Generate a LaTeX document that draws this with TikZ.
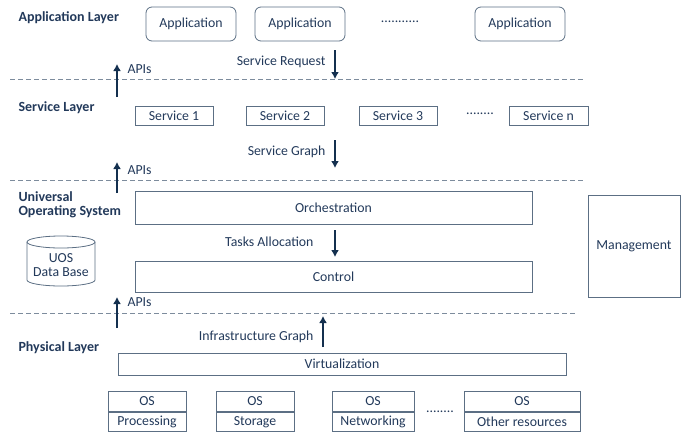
\documentclass[tikz,border=0pt]{standalone}
\usepackage{fontspec}
\setmainfont{Carlito}
\usetikzlibrary{arrows.meta}
\definecolor{txt}{HTML}{22395A}
\definecolor{brd}{HTML}{5C6F84}
\definecolor{arr}{HTML}{14304F}
\tikzset{
  every node/.style={text=txt, font=\fontsize{13.8}{15}\selectfont},
  lay/.style={anchor=west, font=\fontsize{14}{15}\selectfont\bfseries, align=left},
  appbox/.style={draw=brd, line width=0.8pt, rounded corners=6pt, minimum width=90pt, minimum height=34pt},
  svbox/.style={draw=brd, line width=0.8pt, minimum width=78pt, minimum height=19pt, inner sep=0pt},
  widebox/.style={draw=brd, line width=0.8pt, inner sep=0pt},
  osbox/.style={draw=brd, line width=0.8pt, minimum height=19.5pt, inner sep=0pt},
  sep/.style={draw=brd!80, dashed, dash pattern=on 5pt off 3pt, line width=0.7pt},
  flow/.style={draw=arr, line width=2.2pt, -{Latex[length=7pt,width=8pt]}},
  lbl/.style={anchor=east},
}
\begin{document}
\begin{tikzpicture}[x=1pt,y=-1pt]
\useasboundingbox (0,0) rectangle (683,432);
% layer labels
\node[lay] (la) at (15,18) {Application Layer};
\node[lay] (ls) at (15,108) {Service Layer};
\node[lay] (lu) at (15,205) {Universal\\[-1pt]Operating System};
\node[lay] (lp) at (15,348) {Physical Layer};
% application layer
\node[appbox] (a1) at (191,24) {Application};
\node[appbox] (a2) at (300,24) {Application};
\node (adots) at (400,22) {...........};
\node[appbox] (a4) at (520,24) {Application};
% separators
\coordinate (d1l) at (10,79); \coordinate (d1r) at (583,79);
\coordinate (d2l) at (10,180); \coordinate (d2r) at (583,180);
\coordinate (d3l) at (10,313); \coordinate (d3r) at (577,313);
\path[sep] (d1l) -- (d1r);
\path[sep] (d2l) -- (d2r);
\path[sep] (d3l) -- (d3r);
% service request
\coordinate (sr1) at (335,50); \coordinate (sr2) at (335,79);
\path[flow] (sr1) -- (sr2);
\node[lbl] (srl) at (329,62) {Service Request};
% APIs 1
\coordinate (ap1a) at (117,97); \coordinate (ap1b) at (117,64);
\path[flow] (ap1a) -- (ap1b);
\node[anchor=west] (ap1) at (124,69) {APIs};
% services
\node[svbox] (s1) at (174,115.5) {Service 1};
\node[svbox] (s2) at (285,115.5) {Service 2};
\node[svbox] (s3) at (398,115.5) {Service 3};
\node (sdots) at (480,114) {........};
\node[svbox, minimum width=79pt] (sn) at (548.5,115.5) {Service n};
% service graph
\coordinate (sg1) at (335,140); \coordinate (sg2) at (335,168);
\path[flow] (sg1) -- (sg2);
\node[lbl] (sgl) at (329,152) {Service Graph};
% APIs 2
\coordinate (ap2a) at (117,193); \coordinate (ap2b) at (117,162);
\path[flow] (ap2a) -- (ap2b);
\node[anchor=west] (ap2) at (124,170) {APIs};
% UOS
\node[widebox, minimum width=397pt, minimum height=33pt] (orch) at (333.5,207.5) {Orchestration};
\coordinate (ta1) at (335,230); \coordinate (ta2) at (335,257);
\path[flow] (ta1) -- (ta2);
\node[lbl] (tal) at (317,242) {Tasks Allocation};
\node[widebox, minimum width=397pt, minimum height=31pt] (ctrl) at (333.5,276.5) {Control};
% database cylinder
\draw[brd, line width=0.8pt, fill=white] (27,242) -- (27,280) arc[start angle=180, end angle=360, x radius=34pt, y radius=6pt] -- (95,242);
\draw[brd, line width=0.8pt] (61,242) ellipse[x radius=34pt, y radius=6pt];
\node[align=center, inner sep=0pt] (db) at (61,265) {UOS\\[-1pt]Data Base};
% management
\node[widebox, minimum width=92pt, minimum height=102pt] (mgmt) at (634,246) {Management};
% APIs 3
\coordinate (ap3a) at (117,328); \coordinate (ap3b) at (117,297);
\path[flow] (ap3a) -- (ap3b);
\node[anchor=west] (ap3) at (124,302) {APIs};
% infrastructure graph
\coordinate (ig1) at (323,347); \coordinate (ig2) at (323,316);
\path[flow] (ig1) -- (ig2);
\node[lbl] (igl) at (317,337) {Infrastructure Graph};
% virtualization
\node[widebox, minimum width=448pt, minimum height=22pt] (virt) at (342,364) {Virtualization};
% OS boxes
\node[osbox, minimum width=78pt] (o1t) at (147,401.5) {OS};
\node[osbox, minimum width=78pt, anchor=north] (o1b) at (o1t.south) {Processing};
\node[osbox, minimum width=78pt] (o2t) at (255,401.5) {OS};
\node[osbox, minimum width=78pt, anchor=north] (o2b) at (o2t.south) {Storage};
\node[osbox, minimum width=82pt] (o3t) at (373,401.5) {OS};
\node[osbox, minimum width=82pt, anchor=north] (o3b) at (o3t.south) {Networking};
\node (odots) at (440,412) {........};
\node[osbox, minimum width=116pt] (o4t) at (522,401.5) {OS};
\node[osbox, minimum width=116pt, anchor=north] (o4b) at (o4t.south) {Other resources};
\end{tikzpicture}
\end{document}
